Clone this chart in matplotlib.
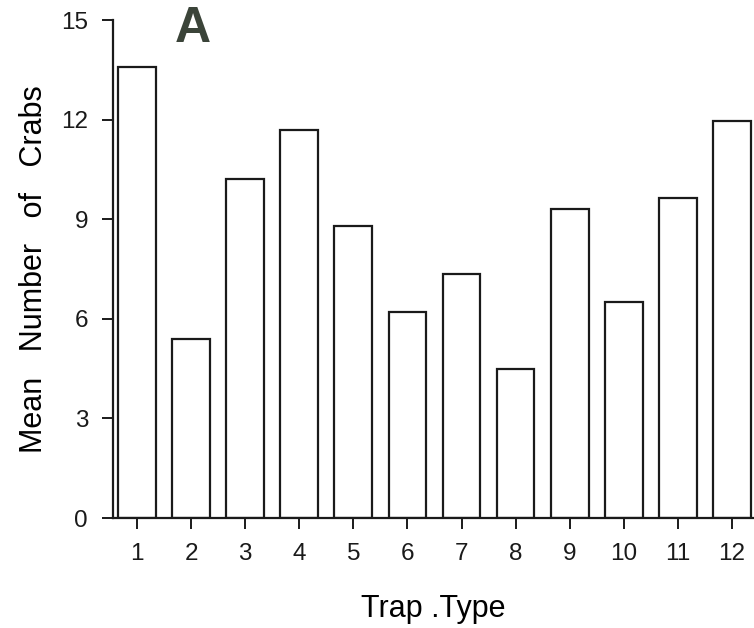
import matplotlib.pyplot as plt
import numpy as np

plt.rcParams['font.family'] = ['Liberation Sans', 'DejaVu Sans']

# data
trap_types = ["1", "2", "3", "4", "5", "6", "7", "8", "9", "10", "11", "12"]
mean_crabs = [13.6, 5.4, 10.2, 11.7, 8.8, 6.2, 7.35, 4.5, 9.3, 6.5, 9.65, 11.95]
y_ticks = [0, 3, 6, 9, 12, 15]

fig = plt.figure(figsize=(7.54, 6.28), dpi=100)
ax = fig.add_axes([0.150, 0.175, 0.85, 0.793])

x = np.arange(1, len(trap_types) + 1)
ax.bar(x, mean_crabs, width=0.70, facecolor='white', edgecolor='#1a1a1a', linewidth=1.6)

ax.set_xlim(0.556, 12.41)
ax.set_ylim(0, 15)
ax.set_xticks(x)
ax.set_xticklabels(trap_types)
ax.set_yticks(y_ticks)

for s in ['top', 'right']:
    ax.spines[s].set_visible(False)
for s in ['left', 'bottom']:
    ax.spines[s].set_linewidth(1.6)
    ax.spines[s].set_color('#1a1a1a')

ax.tick_params(axis='both', direction='out', length=8, width=1.4, colors='#1a1a1a',
               labelsize=17.5, pad=10)

ax.set_ylabel("Mean   Number   of   Crabs", fontsize=22, labelpad=9)
ax.set_xlabel("Trap .Type", fontsize=22, labelpad=21)

ax.text(0.124, 0.982, "A", transform=ax.transAxes, fontsize=36, fontweight='bold',
        color='#3b4439', ha='center', va='center')

fig.savefig("out.png", dpi=100)
